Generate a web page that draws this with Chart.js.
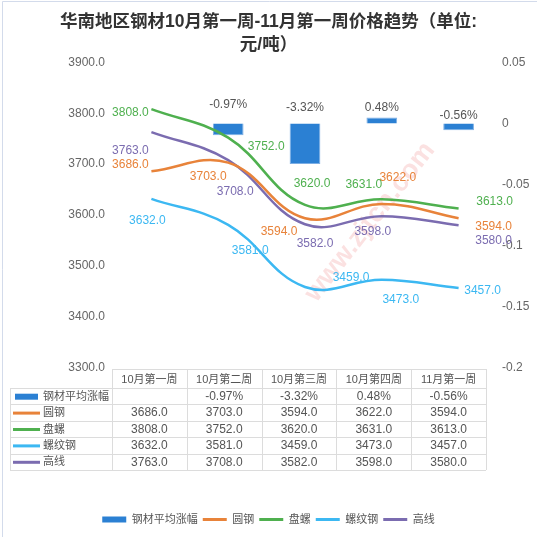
<!DOCTYPE html>
<html>
<head>
<meta charset="utf-8">
<script src="https://cdn.jsdelivr.net/npm/chart.js@4.4.1/dist/chart.umd.min.js"></script>
<style>
  html, body { margin: 0; padding: 0; background: #fff; }
  #wrap { width: 537px; height: 537px; position: relative; }
</style>
</head>
<body>
<div id="wrap"><canvas id="chart"></canvas></div>
<script>
// ---------- dados ----------
const weeks = ['10月第一周', '10月第二周', '10月第三周', '10月第四周', '11月第一周'];
const avgChange  = [null, -0.0097, -0.0332, 0.0048, -0.0056]; // 钢材平均涨幅
const roundSteel = [3686, 3703, 3594, 3622, 3594];            // 圆钢
const coilRebar  = [3808, 3752, 3620, 3631, 3613];            // 盘螺
const rebar      = [3632, 3581, 3459, 3473, 3457];            // 螺纹钢
const wireRod    = [3763, 3708, 3582, 3598, 3580];            // 高线
const priceAxis  = { min: 3300, max: 3900, step: 100 };
const changeAxis = { min: -0.2, max: 0.05, step: 0.05 };

const FONT = "'Liberation Sans', 'Noto Sans CJK SC', sans-serif";
const COLORS = { bar: '#2b80d3', round: '#e8833a', coil: '#4fb04f', rebar: '#3cb8f2', wire: '#7b6cb0' };

// offsets dos rótulos (px) em relação ao ponto
const labelOffsets = {
  '圆钢':   [[-21, -7], [-20, 14], [-26, 14], [16, -26], [35, 9]],
  '盘螺':   [[-21, 4], [38, 9], [7, -21], [-18, -15], [36, -7]],
  '螺纹钢': [[-4, 22], [22, 26], [46, -9], [19, 20], [24, 3]],
  '高线':   [[-21, 19], [7, 32], [10, 19], [-9, 16], [35, 15]]
};
const barLabelDy = [0, -19, -16, -10, -8];

function lineDs(label, data, color) {
  return {
    type: 'line', label, data, yAxisID: 'y',
    borderColor: color, backgroundColor: color,
    borderWidth: 2.5, tension: 0.4, pointRadius: 0, order: 1
  };
}

// ---------- plugins ----------
const watermark = {
  id: 'watermark',
  beforeDatasetsDraw(chart) {
    const ctx = chart.ctx;
    ctx.save();
    ctx.translate(370, 222);
    ctx.rotate(-52 * Math.PI / 180);
    ctx.font = 'bold 27px ' + FONT;
    ctx.fillStyle = 'rgba(236, 120, 120, 0.22)';
    ctx.textAlign = 'center';
    ctx.textBaseline = 'middle';
    ctx.fillText('www.zjtcn.com', 0, 0);
    ctx.restore();
  }
};

const valueLabels = {
  id: 'valueLabels',
  afterDatasetsDraw(chart) {
    const ctx = chart.ctx;
    ctx.save();
    ctx.font = '12px ' + FONT;
    ctx.textAlign = 'center';
    ctx.textBaseline = 'middle';
    chart.data.datasets.forEach((ds, i) => {
      const meta = chart.getDatasetMeta(i);
      meta.data.forEach((el, j) => {
        const v = ds.data[j];
        if (v == null) return;
        if (ds.type === 'bar') {
          ctx.fillStyle = '#555';
          const top = Math.min(el.y, el.base);
          ctx.fillText((v * 100).toFixed(2) + '%', el.x, top + barLabelDy[j]);
        } else {
          const off = labelOffsets[ds.label][j];
          ctx.fillStyle = ds.borderColor;
          ctx.fillText(v.toFixed(1), el.x + off[0], el.y + off[1]);
        }
      });
    });
    ctx.restore();
  }
};

const dataTable = {
  id: 'dataTable',
  afterDraw(chart) {
    const ctx = chart.ctx;
    const area = chart.chartArea;
    const x0 = 10, x1 = area.left - 1;
    const colW = (area.width - 10) / weeks.length;
    const top = area.bottom + 1, headH = 19, rowH = 16.4;
    const rows = chart.data.datasets;
    const xEnd = x1 + colW * weeks.length;
    const bottom = top + headH + rowH * rows.length;

    ctx.save();
    ctx.strokeStyle = '#dcdcdc';
    ctx.lineWidth = 1;
    ctx.beginPath();
    // linhas horizontais
    ctx.moveTo(x1, top + 0.5); ctx.lineTo(xEnd, top + 0.5);
    for (let r = 0; r <= rows.length; r++) {
      const y = Math.round(top + headH + rowH * r) + 0.5;
      ctx.moveTo(x0, y); ctx.lineTo(xEnd, y);
    }
    // linhas verticais
    ctx.moveTo(x0 + 0.5, top + headH); ctx.lineTo(x0 + 0.5, bottom);
    for (let c = 0; c <= weeks.length; c++) {
      const x = Math.round(x1 + colW * c) + 0.5;
      ctx.moveTo(x, top); ctx.lineTo(x, bottom);
    }
    ctx.stroke();

    ctx.fillStyle = '#555';
    ctx.textBaseline = 'middle';
    ctx.textAlign = 'center';
    ctx.font = '11px ' + FONT;
    weeks.forEach((w, c) => ctx.fillText(w, x1 + colW * (c + 0.5), top + headH / 2 + 1));

    rows.forEach((ds, r) => {
      const yc = top + headH + rowH * (r + 0.5) + 0.5;
      // amostra da legenda
      if (ds.type === 'bar') {
        ctx.fillStyle = ds.backgroundColor;
        ctx.fillRect(15, yc - 3, 23, 6);
      } else {
        ctx.strokeStyle = ds.borderColor;
        ctx.lineWidth = 3;
        ctx.beginPath();
        ctx.moveTo(13, yc); ctx.lineTo(40, yc);
        ctx.stroke();
      }
      ctx.fillStyle = '#555';
      ctx.textAlign = 'left';
      ctx.font = '11px ' + FONT;
      ctx.fillText(ds.label, 43, yc);
      ctx.textAlign = 'center';
      ctx.font = '12px ' + FONT;
      ds.data.forEach((v, c) => {
        if (v == null) return;
        const txt = ds.type === 'bar' ? (v * 100).toFixed(2) + '%' : v.toFixed(1);
        ctx.fillText(txt, x1 + colW * (c + 0.5), yc);
      });
    });

    // moldura
    ctx.strokeStyle = '#d3dbeb';
    ctx.lineWidth = 1;
    ctx.beginPath();
    ctx.moveTo(2.5, 537); ctx.lineTo(2.5, 1.5); ctx.lineTo(537, 1.5);
    ctx.stroke();
    ctx.restore();
  }
};

// ---------- chart ----------
new Chart(document.getElementById('chart'), {
  data: {
    labels: weeks,
    datasets: [
      {
        type: 'bar', label: '钢材平均涨幅', data: avgChange, yAxisID: 'y1',
        backgroundColor: COLORS.bar, borderColor: 'rgba(110, 165, 225, 0.9)', borderWidth: 1,
        barPercentage: 0.4, categoryPercentage: 1, order: 2
      },
      lineDs('圆钢', roundSteel, COLORS.round),
      lineDs('盘螺', coilRebar, COLORS.coil),
      lineDs('螺纹钢', rebar, COLORS.rebar),
      lineDs('高线', wireRod, COLORS.wire)
    ]
  },
  options: {
    responsive: true,
    maintainAspectRatio: false,
    animation: false,
    layout: { padding: { left: 0, right: 0, top: 0, bottom: 2 } },
    plugins: {
      title: {
        display: true,
        text: ['华南地区钢材10月第一周-11月第一周价格趋势（单位:', '元/吨）'],
        color: '#333',
        font: { family: FONT, size: 17.5, weight: 'bold', lineHeight: 1.35 },
        padding: { top: 10, bottom: 5 }
      },
      legend: {
        position: 'bottom',
        labels: {
          color: '#555',
          font: { family: FONT, size: 11 },
          usePointStyle: true,
          pointStyleWidth: 24,
          boxHeight: 6,
          padding: 5,
          sort: (a, b) => a.datasetIndex - b.datasetIndex,
          generateLabels(chart) {
            const items = Chart.defaults.plugins.legend.labels.generateLabels(chart);
            items.forEach(it => {
              const ds = chart.data.datasets[it.datasetIndex];
              it.pointStyle = ds.type === 'bar' ? 'rect' : 'line';
              it.lineWidth = ds.type === 'bar' ? 0 : 3;
            });
            return items;
          }
        }
      },
      tooltip: { enabled: false }
    },
    scales: {
      x: {
        grid: { display: false },
        border: { display: false },
        ticks: { display: false },
        afterFit: s => { s.height = 141; }
      },
      y: {
        position: 'left',
        min: priceAxis.min, max: priceAxis.max,
        grid: { display: false, drawTicks: false },
        border: { display: false },
        ticks: {
          stepSize: priceAxis.step, padding: 8, color: '#666',
          font: { family: FONT, size: 12 },
          callback: v => Number(v).toFixed(1)
        },
        afterFit: s => { s.width = 113; }
      },
      y1: {
        position: 'right',
        min: changeAxis.min, max: changeAxis.max,
        grid: { display: false, drawTicks: false },
        border: { display: false },
        ticks: {
          stepSize: changeAxis.step, padding: 5, color: '#666',
          font: { family: FONT, size: 12 },
          callback: v => String(Math.round(v * 100) / 100)
        },
        afterFit: s => { s.width = 40; }
      }
    }
  },
  plugins: [watermark, valueLabels, dataTable]
});
</script>
</body>
</html>
